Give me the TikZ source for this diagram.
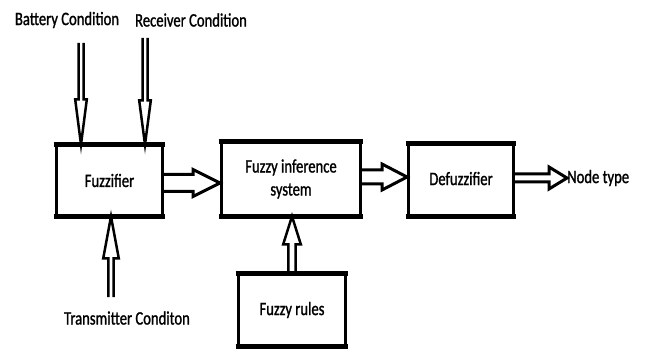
\documentclass[tikz,border=0pt]{standalone}
\usepackage{fontspec}
\setmainfont{Carlito}[FakeStretch=0.77, FakeBold=1.2]
\usetikzlibrary{calc}
\tikzset{
  blk/.style={draw=black, line width=2.6pt, fill=white, inner sep=0pt, align=center,
              font=\fontsize{19}{19}\selectfont},
  lbl/.style={inner sep=0pt, font=\fontsize{19}{19}\selectfont},
  arrowline/.style={draw=black, line width=2.5pt, line join=miter},
  harrowline/.style={arrowline, line width=3pt},
  thickedge/.style={draw=black, line width=5.4pt}
}
% hollow outlined block arrow: [opts]{start}{end}{shaft half}{head half}{head length}
\newcommand\hollowarr[6][]{%
  \draw[arrowline,#1] let \p1=(#2), \p2=(#3),
    \n1={atan2(\y2-\y1,\x2-\x1)}, \n2={veclen(\x2-\x1,\y2-\y1)} in
    {[shift={(\p1)}, rotate=\n1]
     (0,#4) -- ({\n2-#6},#4) -- ({\n2-#6},#5) -- (\n2,0) -- ({\n2-#6},-#5) -- ({\n2-#6},-#4) -- (0,-#4)};}
\newcommand\boxedges[1]{%
  \draw[thickedge] ([xshift=-1.3pt]#1.north west) -- ([xshift=1.3pt]#1.north east);
  \draw[thickedge] ([xshift=-1.3pt]#1.south west) -- ([xshift=1.3pt]#1.south east);}
\begin{document}
\begin{tikzpicture}[x=1pt,y=-1pt]
\useasboundingbox[fill=white] (0,0) rectangle (646,350);

% boxes
\node[blk, minimum width=106.4pt, minimum height=69.4pt] (fz) at (109.5,180.5) {Fuzzifier};
\node[blk, minimum width=139.4pt, minimum height=72pt] (fis) at (291,179) {Fuzzy inference\\[4pt]system};
\node[blk, minimum width=105.4pt, minimum height=70pt] (def) at (461,180) {\raisebox{3pt}{Defuzzifier}};
\node[blk, minimum width=107.4pt, minimum height=70pt] (rules) at (292,310) {Fuzzy rules};
\boxedges{fz}
\boxedges{fis}
\boxedges{def}
\boxedges{rules}

% labels
\node[lbl] (bat) at (67,20) {Battery Condition};
\node[lbl] (rec) at (191,20) {Receiver Condition};
\node[lbl] (tra) at (127,318) {Transmitter Conditon};
\node[lbl, anchor=west] (nt) at (567,178) {Node type};

% free arrow ends
\coordinate (bs) at (81,43);
\coordinate (rs) at (145,38);
\coordinate (ts) at (111,297);

% vertical arrows
\hollowarr{bs}{bs |- fz.north}{2.5}{5.8}{45}
\hollowarr{rs}{rs |- fz.north}{2.5}{5.8}{44}
\hollowarr{ts}{ts |- fz.south}{2.6}{7.8}{42}
\hollowarr{rules.north}{rules.north |- fis.south}{3.6}{8.8}{28}

% horizontal arrows
\coordinate (a1) at (fz.east |- 0,183);
\coordinate (a2) at (fis.east |- 0,177);
\coordinate (a3) at (def.east |- 0,178);
\hollowarr[harrowline]{a1}{a1 -| fis.west}{8.5}{13.5}{27}
\hollowarr[harrowline]{a2}{a2 -| def.west}{7}{13}{25}
\hollowarr[harrowline]{a3}{nt.west}{4}{11}{18}
\end{tikzpicture}
\end{document}
